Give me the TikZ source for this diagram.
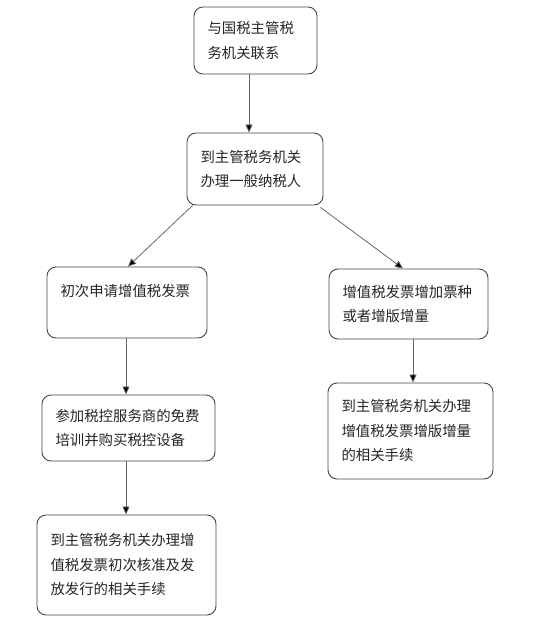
\documentclass[tikz,border=0pt]{standalone}
\usepackage{fontspec}
\newfontfamily\cjk{Noto Sans CJK SC}
\usetikzlibrary{arrows.meta}
\begin{document}
\begin{tikzpicture}[x=1pt,y=-1pt,
  box/.style={draw=black!72,line width=0.9pt,rounded corners=9pt,align=left,
    inner xsep=13.5pt,inner ysep=0pt,font=\cjk\fontsize{14.4}{24.5}\selectfont,text=black!85},
  arr/.style={draw=black!60,line width=0.8pt,-{Triangle[length=8pt,width=7pt,fill=black]}}]
\useasboundingbox[fill=white] (0,0) rectangle (558,620);
\node[box,text width=96pt,minimum height=67pt] (b1) at (255.5,40.5) {与国税主管税\\务机关联系};
\node[box,text width=109pt,minimum height=72pt] (b2) at (255,169) {到主管税务机关\\办理一般纳税人};
\node[box,text width=133pt,minimum height=71pt] (b3) at (127,302.5) {初次申请增值税发票\\\mbox{}};
\node[box,text width=132pt,minimum height=70pt] (b4) at (408.5,304) {增值税发票增加票种\\或者增版增量};
\node[box,text width=146pt,minimum height=66pt] (b5) at (128.5,428) {参加税控服务商的免费\\培训并购买税控设备};
\node[box,text width=138pt,minimum height=96pt] (b6) at (410.5,431) {到主管税务机关办理\\增值税发票增版增量\\的相关手续};
\node[box,text width=152pt,minimum height=100pt] (b7) at (126.5,565) {到主管税务机关办理增\\值税发票初次核准及发\\放发行的相关手续};
\coordinate (c1) at (249,0);
\coordinate (c2) at (126,0);
\coordinate (c3) at (413,0);
\draw[arr] (b1.south -| c1) -- (b2.north -| c1);
\draw[arr] ([xshift=6pt]b2.south west) -- ([xshift=1pt]b3.north);
\draw[arr] ([xshift=-3pt,yshift=-2pt]b2.south east) -- ([xshift=-5.5pt]b4.north);
\draw[arr] (b3.south -| c2) -- (b5.north -| c2);
\draw[arr] (b5.south -| c2) -- (b7.north -| c2);
\draw[arr] (b4.south -| c3) -- (b6.north -| c3);
\end{tikzpicture}
\end{document}
